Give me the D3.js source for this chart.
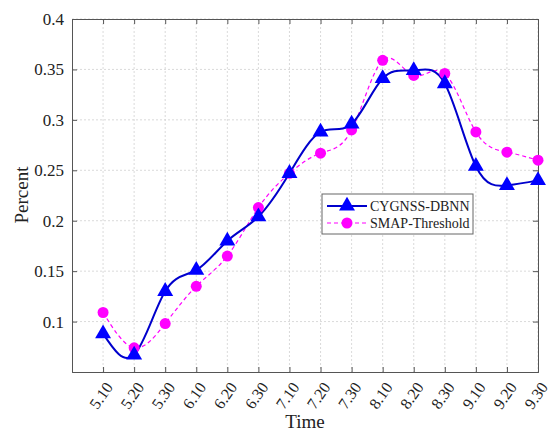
<!DOCTYPE html>
<html>
<head>
<meta charset="utf-8">
<script src="https://cdn.jsdelivr.net/npm/d3@7"></script>
<style>
  body { margin: 0; background: #fff; }
  text { font-family: "Liberation Serif", "Times New Roman", serif; }
</style>
</head>
<body>
<svg id="chart" width="550" height="435"></svg>
<script>
var dates = ["5.10","5.20","5.30","6.10","6.20","6.30","7.10","7.20","7.30","8.10","8.20","8.30","9.10","9.20","9.30"];
var cygnss = [0.088,0.067,0.130,0.151,0.180,0.204,0.247,0.288,0.296,0.341,0.349,0.336,0.254,0.235,0.240];
var smap = [0.109,0.074,0.098,0.135,0.165,0.213,0.247,0.267,0.290,0.359,0.344,0.346,0.288,0.268,0.260];
var yTicks = [0.1,0.15,0.2,0.25,0.3,0.35,0.4];

var svg = d3.select("#chart");
var plotL = 72, plotR = 538, plotT = 19, plotB = 372;

var x = d3.scaleLinear().domain([0, dates.length]).range([plotL, plotR]);
var y = d3.scaleLinear().domain([0.05, 0.4]).range([plotB, plotT]);
var idx = d3.range(1, dates.length + 1);

// grid
svg.append("g").selectAll("line").data(idx).enter().append("line")
    .attr("x1", function(d){ return x(d); }).attr("x2", function(d){ return x(d); })
    .attr("y1", plotT).attr("y2", plotB)
    .attr("stroke", "#d0d0d0").attr("stroke-dasharray", "2,2").attr("stroke-width", 0.8);
svg.append("g").selectAll("line").data(yTicks).enter().append("line")
    .attr("x1", plotL).attr("x2", plotR)
    .attr("y1", function(d){ return y(d); }).attr("y2", function(d){ return y(d); })
    .attr("stroke", "#d0d0d0").attr("stroke-dasharray", "2,2").attr("stroke-width", 0.8);

// axes
var xAxis = d3.axisBottom(x).tickValues(idx).tickSize(-5).tickFormat("");
var xTop = d3.axisTop(x).tickValues(idx).tickSize(-5).tickFormat("");
var yAxis = d3.axisLeft(y).tickValues(yTicks).tickSize(-5).tickPadding(8).tickFormat(d3.format("~g"));
var yRight = d3.axisRight(y).tickValues(yTicks).tickSize(-5).tickFormat("");

svg.append("g").attr("transform", "translate(0," + plotB + ")").call(xAxis);
svg.append("g").attr("transform", "translate(0," + plotT + ")").call(xTop);
svg.append("g").attr("class", "yax").attr("transform", "translate(" + plotL + ",0)").call(yAxis);
svg.append("g").attr("transform", "translate(" + plotR + ",0)").call(yRight);

svg.selectAll(".domain").attr("stroke", "#555").attr("stroke-width", 1);
svg.selectAll(".tick line").attr("stroke", "#555");
svg.selectAll(".yax .tick text").attr("font-size", 17).attr("fill", "#222")
    .style("font-family", "Liberation Serif");

// x tick labels, rotated
svg.append("g").selectAll("text").data(idx).enter().append("text")
    .attr("transform", function(d){ return "translate(" + (x(d) + 6) + "," + (plotB + 12) + ") rotate(-55)"; })
    .attr("text-anchor", "end")
    .attr("dy", "0.35em")
    .attr("font-size", 16)
    .attr("fill", "#222")
    .text(function(d){ return dates[d - 1]; });

// axis titles
svg.append("text").attr("x", 305).attr("y", 428).attr("text-anchor", "middle")
    .attr("font-size", 19).attr("fill", "#222").text("Time");
svg.append("text").attr("transform", "translate(28,195) rotate(-90)").attr("text-anchor", "middle")
    .attr("font-size", 19).attr("fill", "#222").text("Percent");

// lines
var line = d3.line()
    .x(function(d, i){ return x(i + 1); })
    .y(function(d){ return y(d); })
    .curve(d3.curveNatural);

svg.append("path").datum(smap).attr("d", line)
    .attr("fill", "none").attr("stroke", "#ff00ff").attr("stroke-width", 1.2)
    .attr("stroke-dasharray", "4,3");
svg.append("path").datum(cygnss).attr("d", line)
    .attr("fill", "none").attr("stroke", "#0000cc").attr("stroke-width", 2);

var tri = d3.symbol().type(d3.symbolTriangle).size(110);

svg.append("g").selectAll("circle").data(smap).enter().append("circle")
    .attr("cx", function(d, i){ return x(i + 1); })
    .attr("cy", function(d){ return y(d); })
    .attr("r", 5.5).attr("fill", "#ff00ff");
svg.append("g").selectAll("path").data(cygnss).enter().append("path")
    .attr("d", tri)
    .attr("transform", function(d, i){ return "translate(" + x(i + 1) + "," + y(d) + ")"; })
    .attr("fill", "#0000ff");

// legend
var lg = svg.append("g").attr("transform", "translate(322,194)");
lg.append("rect").attr("width", 151).attr("height", 40)
    .attr("fill", "#fff").attr("stroke", "#666").attr("stroke-width", 1);
lg.append("line").attr("x1", 5).attr("x2", 45).attr("y1", 12).attr("y2", 12)
    .attr("stroke", "#0000cc").attr("stroke-width", 2);
lg.append("path").attr("d", tri).attr("transform", "translate(25,12)").attr("fill", "#0000ff");
lg.append("text").attr("x", 48).attr("y", 12).attr("dy", "0.35em").attr("font-size", 14)
    .attr("fill", "#222").text("CYGNSS-DBNN");
lg.append("line").attr("x1", 5).attr("x2", 45).attr("y1", 29).attr("y2", 29)
    .attr("stroke", "#ff00ff").attr("stroke-width", 1.2).attr("stroke-dasharray", "4,3");
lg.append("circle").attr("cx", 25).attr("cy", 29).attr("r", 5.5).attr("fill", "#ff00ff");
lg.append("text").attr("x", 48).attr("y", 29).attr("dy", "0.35em").attr("font-size", 14)
    .attr("fill", "#222").text("SMAP-Threshold");
</script>
</body>
</html>
